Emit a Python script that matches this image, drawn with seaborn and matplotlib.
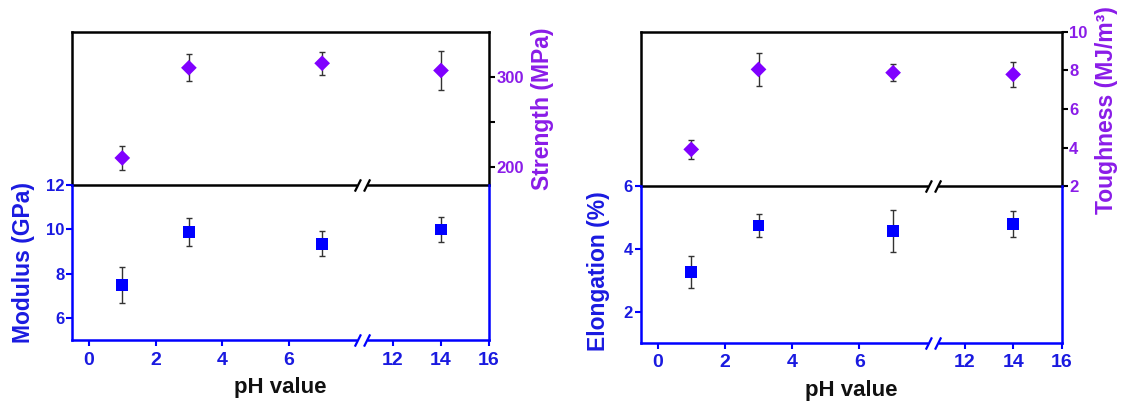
import numpy as np
import pandas as pd
import matplotlib
matplotlib.use("Agg")
import matplotlib.pyplot as plt
import seaborn as sns
from matplotlib.path import Path
from matplotlib.transforms import blended_transform_factory
from matplotlib.ticker import FixedLocator, NullLocator

# ---- data -------------------------------------------------------------
ph = [1, 3, 7, 14]

strength = [210, 310, 315, 307]          # MPa
strength_err = [13, 15, 13, 22]
modulus = [7.48, 9.87, 9.35, 10.0]       # GPa
modulus_err = [0.81, 0.63, 0.56, 0.58]

toughness = [3.91, 8.05, 7.88, 7.79]     # MJ/m^3
toughness_err = [0.49, 0.86, 0.45, 0.66]
elongation = [3.26, 4.75, 4.57, 4.79]    # %
elongation_err = [0.52, 0.37, 0.67, 0.41]

x_ticks = [0, 2, 4, 6, 12, 14, 16]
strength_ticks = [200, 300]
modulus_ticks = [6, 8, 10, 12]
toughness_ticks = [2, 4, 6, 8, 10]
elongation_ticks = [2, 4, 6]

# ---- style ------------------------------------------------------------
sns.set_style("white")
plt.rcParams["font.family"] = ["Liberation Sans", "DejaVu Sans"]
plt.rcParams["font.weight"] = "bold"
plt.rcParams["axes.labelweight"] = "bold"

BLUE = "#0000ff"
BLUE_TXT = "#1a1ae0"
PURPLE = "#8000ff"
PURPLE_TXT = "#8a1ce8"
ERR = "#333333"
SPINE_W = 1.8

# ---- broken x axis: [-0.5, 8.1] // [10.85, 16] ------------------------
L1, G, GAP, K = 8.1, 10.85, 0.2, 0.72


def fwd(x):
    x = np.asarray(x, float)
    return np.where(x <= L1, x,
                    np.where(x <= G, L1 + (x - L1) * GAP / (G - L1),
                             L1 + GAP + (x - G) * K))


def inv(y):
    y = np.asarray(y, float)
    return np.where(y <= L1, y,
                    np.where(y <= L1 + GAP, L1 + (y - L1) * (G - L1) / GAP,
                             G + (y - L1 - GAP) / K))


XB = (L1 + G) / 2.0
SLASH = Path([(-5, -4), (-1, 4), (1, -4), (5, 4)],
             [Path.MOVETO, Path.LINETO, Path.MOVETO, Path.LINETO])
GAP_BOX = Path([(-3, -1.5), (3, -1.5), (3, 1.5), (-3, 1.5), (-3, -1.5)],
               [Path.MOVETO, Path.LINETO, Path.LINETO, Path.LINETO,
                Path.CLOSEPOLY])


def add_break(ax, color):
    tr = blended_transform_factory(ax.transData, ax.transAxes)
    ax.plot([XB], [0], marker=GAP_BOX, ms=7, mfc="white", mec="none",
            transform=tr, clip_on=False, zorder=10)
    ax.plot([XB], [0], marker=SLASH, ms=11, mfc="none", mec=color, mew=1.6,
            transform=tr, clip_on=False, zorder=11)


def draw_points(ax, y, yerr, marker, size, color):
    ax.errorbar(ph, y, yerr=yerr, fmt="none", ecolor=ERR, elinewidth=1.0,
                capsize=2, capthick=1.0, zorder=2)
    df = pd.DataFrame({"pH": ph, "val": y})
    sns.scatterplot(data=df, x="pH", y="val", marker=marker, s=size,
                    color=color, edgecolor="none", linewidth=0, ax=ax,
                    zorder=3, legend=False)


def panel(fig, x0, w, top_box, bot_box, top, bot):
    ax_t = fig.add_axes([x0, top_box[0], w, top_box[1]])
    ax_b = fig.add_axes([x0, bot_box[0], w, bot_box[1]])
    for ax in (ax_t, ax_b):
        ax.set_xscale("function", functions=(fwd, inv))
        ax.patch.set_visible(False)

    # upper half: diamonds, black frame, right-hand purple axis
    draw_points(ax_t, top["y"], top["err"], "D", 64, PURPLE)
    ax_t.set_xlim(-0.5, 16)
    ax_t.set_ylim(*top["lim"])
    ax_t.xaxis.set_major_locator(NullLocator())
    ax_t.xaxis.set_minor_locator(NullLocator())
    ax_t.yaxis.tick_right()
    ax_t.yaxis.set_label_position("right")
    ax_t.yaxis.set_major_locator(FixedLocator(top["ticks"]))
    if top.get("minor"):
        ax_t.yaxis.set_minor_locator(FixedLocator(top["minor"]))
    else:
        ax_t.yaxis.set_minor_locator(NullLocator())
    ax_t.tick_params(axis="y", which="both", direction="out", length=4,
                     width=1.5, color="black", labelcolor=PURPLE_TXT,
                     labelsize=12, pad=1.5, left=False, right=True)
    for s in ax_t.spines.values():
        s.set_visible(True)
        s.set_color("black")
        s.set_linewidth(SPINE_W)
    ax_t.set_xlabel("")
    ax_t.set_ylabel(top["label"], color=PURPLE_TXT, fontsize=16.5,
                    fontweight="bold")
    ax_t.yaxis.set_label_coords(top["lx"], top["ly"])
    add_break(ax_t, "black")

    # lower half: squares, blue axes
    draw_points(ax_b, bot["y"], bot["err"], "s", 72, BLUE)
    ax_b.set_xlim(-0.5, 16)
    ax_b.set_ylim(*bot["lim"])
    ax_b.xaxis.set_major_locator(FixedLocator(x_ticks))
    ax_b.xaxis.set_minor_locator(NullLocator())
    ax_b.set_xticklabels([str(t) for t in x_ticks])
    ax_b.yaxis.set_major_locator(FixedLocator(bot["ticks"]))
    ax_b.yaxis.set_minor_locator(NullLocator())
    ax_b.tick_params(axis="x", direction="out", length=4, width=1.5,
                     color=BLUE, labelcolor=BLUE_TXT, labelsize=14, pad=4,
                     bottom=True, top=False)
    ax_b.tick_params(axis="y", direction="out", length=4, width=1.5,
                     color=BLUE, labelcolor=BLUE_TXT, labelsize=12, pad=1.5,
                     left=True, right=False)
    for name, s in ax_b.spines.items():
        s.set_color(BLUE)
        s.set_linewidth(SPINE_W)
        s.set_visible(name != "top")
    ax_b.set_xlabel("pH value", color="#111111", fontsize=16,
                    fontweight="bold")
    ax_b.xaxis.set_label_coords(0.5, -0.235)
    ax_b.set_ylabel(bot["label"], color=BLUE_TXT, fontsize=16.5,
                    fontweight="bold")
    ax_b.yaxis.set_label_coords(bot["lx"], bot["ly"])
    add_break(ax_b, BLUE)


fig = plt.figure(figsize=(11.21, 4.05), dpi=100)

panel(fig, 0.0645, 0.3717, (0.5432, 0.3785), (0.1593, 0.3840),
      dict(y=strength, err=strength_err, lim=(180, 350),
           ticks=strength_ticks, minor=[250], label="Strength (MPa)",
           lx=1.10, ly=0.5),
      dict(y=modulus, err=modulus_err, lim=(5, 12), ticks=modulus_ticks,
           label="Modulus (GPa)", lx=-0.09, ly=0.5))

panel(fig, 0.5716, 0.3754, (0.5400, 0.3817), (0.1531, 0.3869),
      dict(y=toughness, err=toughness_err, lim=(2, 10),
           ticks=toughness_ticks, minor=None, label="Toughness (MJ/m³)",
           lx=1.08, ly=0.49),
      dict(y=elongation, err=elongation_err, lim=(1, 6),
           ticks=elongation_ticks, label="Elongation (%)", lx=-0.073,
           ly=0.46))

fig.savefig("out.png", dpi=100, facecolor="white")
